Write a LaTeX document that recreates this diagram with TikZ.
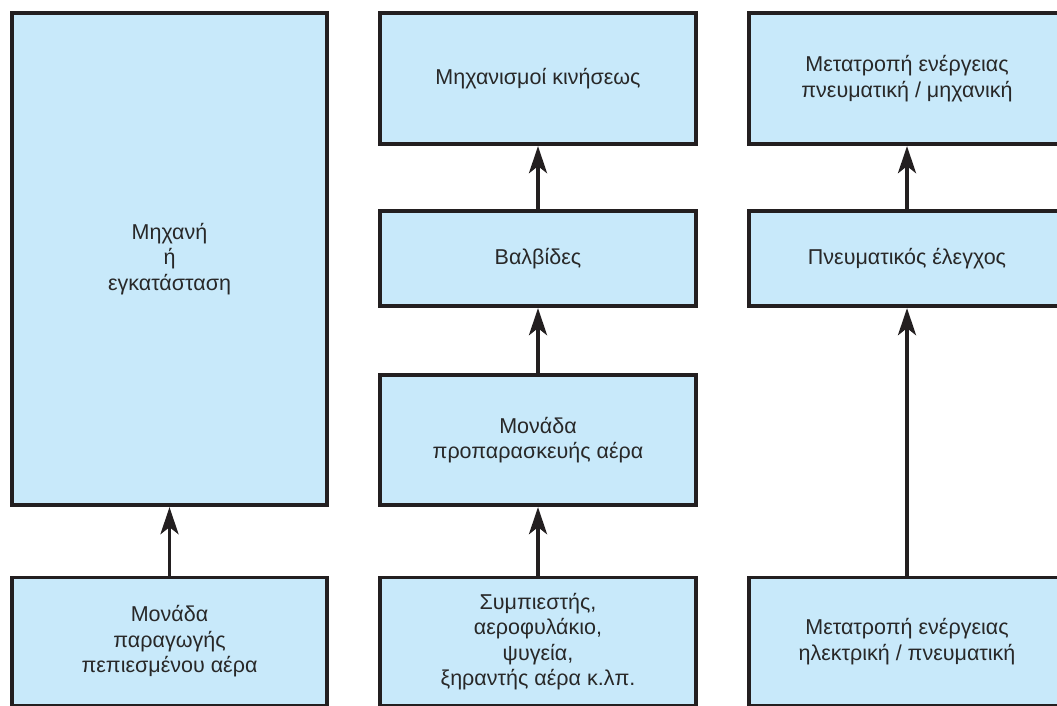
\documentclass[tikz,border=0pt]{standalone}
\usepackage{fontspec}
\setmainfont{Liberation Sans}
\usetikzlibrary{arrows.meta}
\definecolor{boxfill}{RGB}{200,233,250}
\definecolor{ink}{RGB}{35,31,32}
\definecolor{txt}{RGB}{40,40,40}
\begin{document}
\begin{tikzpicture}[x=1pt,y=-1pt,
  box/.style={draw=ink, line width=3.8pt, fill=boxfill, rectangle, inner sep=0pt,
    align=center, text=txt, font=\fontsize{21.5}{25.5}\selectfont, minimum width=315.5pt},
  flow/.style={draw=ink, line width=3.8pt,
    -{Stealth[length=27pt, width=18pt, inset=7pt]}}]
  \useasboundingbox (0,0) rectangle (1057,706);
  \clip (0,0) rectangle (1057,706);

  % left column
  \node[box, minimum height=492.5pt] (plant) at (169.5,259) {Μηχανή\\ή\\εγκατάσταση};
  \node[box, minimum height=128pt] (supply) at (169.5,641.5) {Μονάδα\\παραγωγής\\πεπιεσμένου αέρα};

  % middle column
  \node[box, minimum height=131.5pt] (drives) at (538,78.5) {Μηχανισμοί κινήσεως};
  \node[box, minimum height=95.5pt] (valves) at (538,258.5) {Βαλβίδες};
  \node[box, minimum height=130.5pt] (prep) at (538,440) {Μονάδα\\προπαρασκευής αέρα};
  \node[box, minimum height=128pt] (compr) at (538,641.5) {Συμπιεστής,\\αεροφυλάκιο,\\ψυγεία,\\ξηραντής αέρα κ.λπ.};

  % right column
  \node[box, minimum height=131.5pt] (convmech) at (907,78.5) {Μετατροπή ενέργειας\\πνευματική / μηχανική};
  \node[box, minimum height=95.5pt] (control) at (907,258.5) {Πνευματικός έλεγχος};
  \node[box, minimum height=128pt] (convel) at (907,641.5) {Μετατροπή ενέργειας\\ηλεκτρική / πνευματική};

  % connectors
  \draw[flow] (supply.north) -- (plant.south);
  \draw[flow] (compr.north) -- (prep.south);
  \draw[flow] (prep.north) -- (valves.south);
  \draw[flow] (valves.north) -- (drives.south);
  \draw[flow] (convel.north) -- (control.south);
  \draw[flow] (control.north) -- (convmech.south);
\end{tikzpicture}
\end{document}
